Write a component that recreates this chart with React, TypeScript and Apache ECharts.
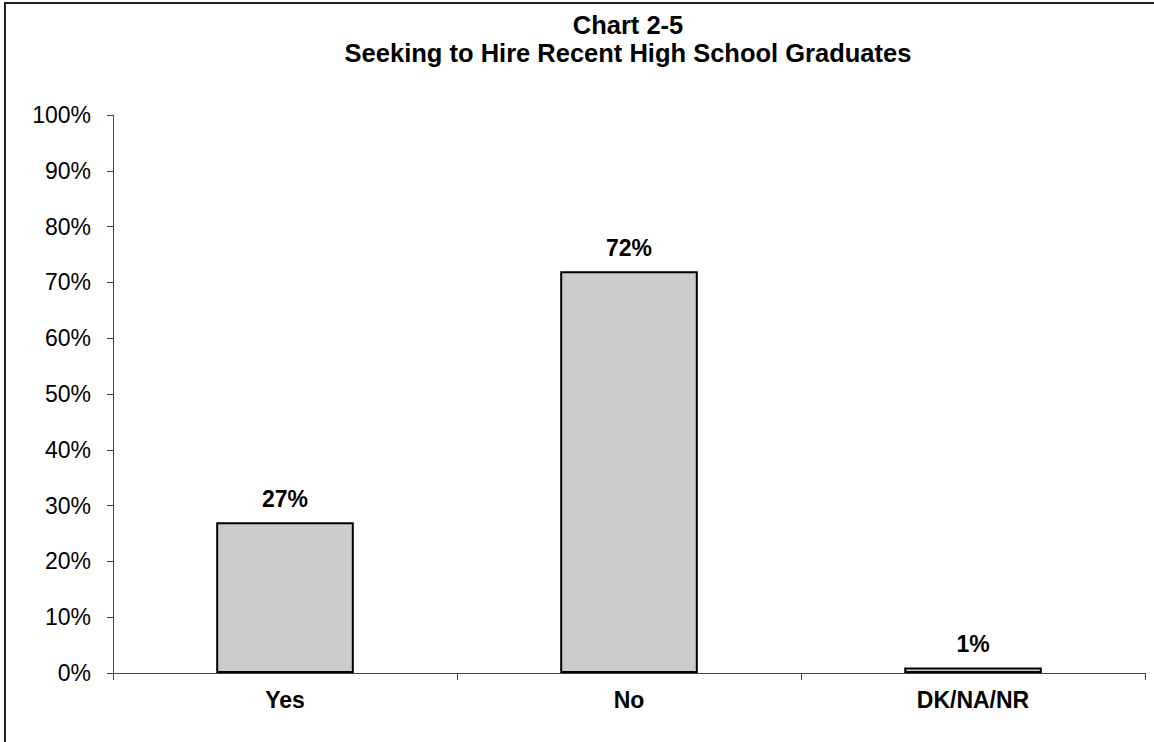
import React, { useEffect, useRef } from "react";
import * as echarts from "echarts";

const categories = ["Yes", "No", "DK/NA/NR"];
const shares = [27, 72, 1];
const yTicks = { min: 0, max: 100, interval: 10 };
const titleLines = ["Chart 2-5", "Seeking to Hire Recent High School Graduates"];

const FONT = '"Liberation Sans", Arial, sans-serif';

export default function App() {
  const ref = useRef<HTMLDivElement>(null);

  useEffect(() => {
    if (!ref.current) return;
    const chart = echarts.init(ref.current, null, { renderer: "svg" });
    chart.setOption({
      animation: false,
      backgroundColor: "#ffffff",
      textStyle: { fontFamily: FONT },
      graphic: [
        {
          type: "rect",
          shape: { x: 5, y: 3, width: 1300, height: 900 },
          style: { fill: "none", stroke: "#222", lineWidth: 2 },
          silent: true,
        },
        {
          type: "text",
          x: 628,
          y: 11,
          style: {
            text: titleLines.join("\n"),
            align: "center",
            verticalAlign: "top",
            font: `bold 25.5px ${FONT}`,
            lineHeight: 28,
            fill: "#000",
          },
        },
      ],
      grid: { left: 113, right: 9, top: 115, bottom: 69 },
      xAxis: {
        type: "category",
        data: categories,
        axisLine: { show: true, lineStyle: { color: "#444", width: 1 } },
        axisTick: { show: true, length: 7, lineStyle: { color: "#444" } },
        axisLabel: {
          color: "#000",
          fontFamily: FONT,
          fontSize: 23,
          fontWeight: "bold",
          margin: 15,
        },
      },
      yAxis: {
        type: "value",
        min: yTicks.min,
        max: yTicks.max,
        interval: yTicks.interval,
        axisLine: { show: true, lineStyle: { color: "#444", width: 1 } },
        axisTick: { show: true, length: 6, lineStyle: { color: "#444" } },
        splitLine: { show: false },
        axisLabel: {
          color: "#000",
          fontFamily: FONT,
          fontSize: 23,
          margin: 22,
          formatter: "{value}%",
        },
      },
      series: [
        {
          type: "bar",
          data: shares,
          barWidth: "40%",
          itemStyle: { color: "#cccccc", borderColor: "#000", borderWidth: 2 },
          label: {
            show: true,
            position: "top",
            distance: 12,
            formatter: "{c}%",
            color: "#000",
            fontFamily: FONT,
            fontSize: 23,
            fontWeight: "bold",
          },
        },
      ],
    });
    return () => chart.dispose();
  }, []);

  return (
    <div
      ref={ref}
      style={{ position: "fixed", left: 0, top: 0, width: 1154, height: 742 }}
    />
  );
}
